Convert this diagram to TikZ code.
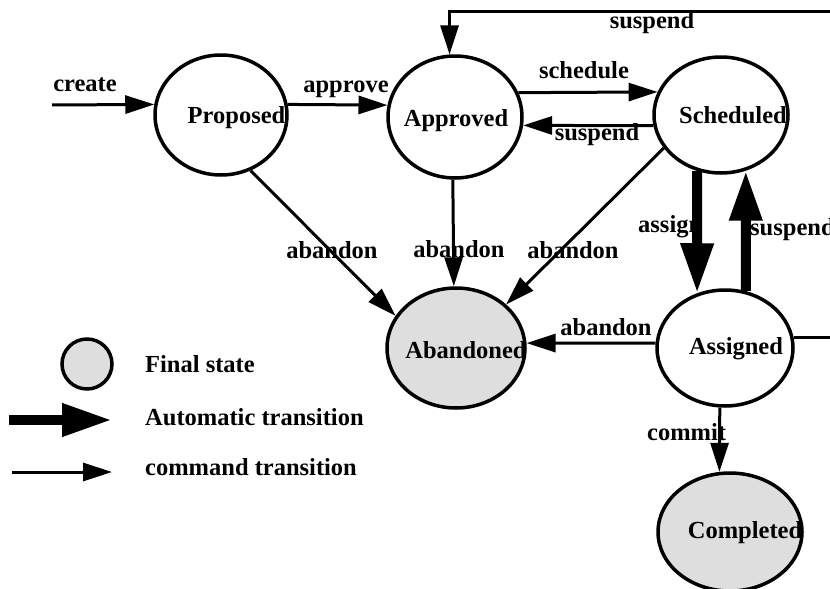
\documentclass[tikz,border=0pt]{standalone}
\usepackage{fontspec}
\setmainfont{Liberation Serif}
\usetikzlibrary{arrows.meta,shapes.geometric}
\begin{document}
\begin{tikzpicture}[x=1pt,y=-1pt,
  stnode/.style={ellipse,draw,line width=3.5pt,inner sep=0pt},
  finalnode/.style={stnode,fill=black!13},
  lbl/.style={font=\fontsize{24.5}{28}\selectfont\bfseries,inner sep=0pt,anchor=base},
  lblw/.style={lbl,anchor=base west},
  cmdtr/.style={line width=3pt,-{Triangle[length=29pt,width=18pt]}},
  autotr/.style={line width=10pt,-{Triangle[length=50pt,width=31pt]}}]
\useasboundingbox (0,0) rectangle (830,589);
\clip (0,0) rectangle (830,589);
% states
\node[stnode,minimum width=132pt,minimum height=120pt] (prop) at (221,115) {};
\node[stnode,minimum width=134pt,minimum height=122pt] (appr) at (455,117) {};
\node[stnode,minimum width=134pt,minimum height=116pt] (sched) at (721,115) {};
\node[stnode,minimum width=136pt,minimum height=116pt] (assg) at (725,348) {};
\node[finalnode,minimum width=138pt,minimum height=120pt] (aband) at (456,348) {};
\node[finalnode,minimum width=144pt,minimum height=118pt] (comp) at (730,532) {};
\node[finalnode,circle,minimum size=50pt] (legc) at (87,364) {};
% transition labels
\node[lbl] (lcreate) at (85,91) {create};
\node[lbl] (lapprove) at (346,92) {approve};
\node[lbl] (lschedule) at (584,78) {schedule};
\node[lbl] (lsusptop) at (652,28) {suspend};
\node[lbl] (lsuspback) at (597,140) {suspend};
\node[lbl] (lab1) at (332,258) {abandon};
\node[lbl] (lab2) at (459,257) {abandon};
\node[lbl] (lab3) at (573,258) {abandon};
\node[lbl] (lab4) at (606,335) {abandon};
\node[lblw] (lassign) at (638,232) {assign};
\node[lblw] (lsuspright) at (750,235) {suspend};
\node[lblw] (lcommit) at (647,440) {commit};
% legend texts
\node[lblw] (lfinal) at (145,372) {Final state};
\node[lblw] (lauto) at (145,425) {Automatic transition};
\node[lblw] (lcmd) at (145,475) {command transition};
% connectors
\coordinate (c0) at (52,105);
\draw[cmdtr] (c0) -- (prop.171);
\draw[cmdtr] (prop.9) -- (appr.170);
\draw[cmdtr] (appr.21) -- (sched.160);
\draw[cmdtr] (sched.189) -- (appr.-7);
\coordinate (tr) at (850,11);
\draw[cmdtr] (assg.9) -| (tr) -| (appr.95);
\draw[cmdtr] (prop.-62) -- (aband.152);
\draw[cmdtr] (appr.-92) -- (aband.92);
\draw[cmdtr] (sched.210) -- (aband.41);
\draw[cmdtr] (assg.176) -- (aband.4);
\draw[cmdtr] (assg.265) -- (comp.100);
\draw[autotr] (sched.247) -- (assg.117);
\draw[autotr] (assg.70) -- (sched.294);
% legend arrows
\coordinate (la1) at (9,420);
\coordinate (la2) at (112,420);
\draw[autotr] (la1) -- (la2);
\coordinate (lb1) at (12,472);
\coordinate (lb2) at (112,472);
\draw[cmdtr] (lb1) -- (lb2);
% state names
\node[lbl] (propT) at (236.5,123) {Proposed};
\node[lbl] (apprT) at (456,126) {Approved};
\node[lbl] (schedT) at (733,123) {Scheduled};
\node[lbl] (assgT) at (736,354) {Assigned};
\node[lbl] (abandT) at (466,358) {Abandoned};
\node[lbl] (compT) at (745,538) {Completed};
\end{tikzpicture}
\end{document}
